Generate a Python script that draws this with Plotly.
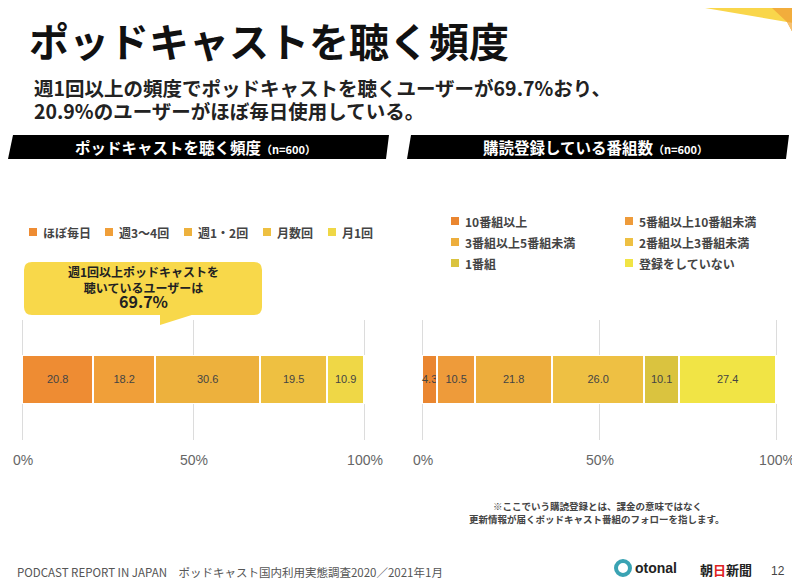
import plotly.graph_objects as go

# The page places the figure 8px in from the top-left corner, so the figure is
# drawn 8px smaller and reference-pixel positions are shifted by that offset.
OFF = 8
W, H = 800 - OFF, 585 - OFF

# ---------------- data ----------------
freq_categories = ["ほぼ毎日", "週3〜4回", "週1・2回", "月数回", "月1回"]
freq_values = [20.8, 18.2, 30.6, 19.5, 10.9]
freq_colors = ["#EE8C33", "#F09F39", "#EDB13D", "#EEC041", "#EFD746"]

sub_categories = ["10番組以上", "5番組以上10番組未満", "3番組以上5番組未満",
                  "2番組以上3番組未満", "1番組", "登録をしていない"]
sub_values = [4.3, 10.5, 21.8, 26.0, 10.1, 27.4]
sub_colors = ["#EA8630", "#EE9B3A", "#EDAE3D", "#EEC043", "#DAC33F", "#F1E445"]

x_tick_values = [0, 50, 100]
x_tick_labels = ["0%", "50%", "100%"]

JP = "Noto Sans CJK JP"
LAT = "Liberation Sans"


def px(x):
    return (x - OFF) / W


def py(y):
    return 1 - (y - OFF) / H


fig = go.Figure()

for cat, val, col in zip(freq_categories, freq_values, freq_colors):
    fig.add_trace(go.Bar(
        x=[val], y=["freq"], orientation="h", name=cat,
        marker=dict(color=col, line=dict(color="white", width=1.5)),
        text=[f"{val:.1f}"], textposition="inside", insidetextanchor="middle",
        textangle=0,
        textfont=dict(family=LAT, size=11, color="#444444"),
        width=0.4, xaxis="x", yaxis="y", showlegend=False,
        hovertemplate=cat + ": %{x:.1f}%<extra></extra>"))

for cat, val, col in zip(sub_categories, sub_values, sub_colors):
    fig.add_trace(go.Bar(
        x=[val], y=["sub"], orientation="h", name=cat,
        marker=dict(color=col, line=dict(color="white", width=1.5)),
        text=[f"{val:.1f}"], textposition="inside", insidetextanchor="middle",
        textangle=0,
        textfont=dict(family=LAT, size=11, color="#444444"),
        width=0.4, xaxis="x2", yaxis="y2", showlegend=False,
        hovertemplate=cat + ": %{x:.1f}%<extra></extra>"))

# a little padding on the x range so the 0% / 100% gridlines are drawn
XPAD = 0.6


def xdomain(x0, x1):
    unit = (x1 - x0) / 100.0
    return [px(x0 - XPAD * unit), px(x1 + XPAD * unit)]


xcommon = dict(range=[-XPAD, 100 + XPAD], tickvals=x_tick_values, ticktext=x_tick_labels,
               showgrid=True, gridcolor="#DCDCDC", gridwidth=1, zeroline=False,
               showline=False, ticks="outside", ticklen=7,
               tickcolor="rgba(0,0,0,0)",
               tickfont=dict(family=LAT, size=14, color="#666666"),
               automargin=False, fixedrange=True)
ycommon = dict(range=[-0.5, 0.5], showticklabels=False, showgrid=False,
               zeroline=False, automargin=False, fixedrange=True)

fig.update_layout(
    width=W, height=H,
    margin=dict(l=0, r=0, t=0, b=0, pad=0, autoexpand=False),
    paper_bgcolor="white", plot_bgcolor="rgba(0,0,0,0)",
    barmode="stack", bargap=0,
    showlegend=False,
    uniformtext=dict(minsize=11, mode="show"),
    xaxis=dict(domain=xdomain(23, 365), anchor="y", **xcommon),
    yaxis=dict(domain=[py(440), py(320)], anchor="x", **ycommon),
    xaxis2=dict(domain=xdomain(423, 777), anchor="y2", **xcommon),
    yaxis2=dict(domain=[py(440), py(320)], anchor="x2", **ycommon),
)

shapes = []
ann = []


def path(points):
    return "M " + " L ".join(f"{px(x):.5f},{py(y):.5f}" for x, y in points) + " Z"


def rounded_rect(x0, y0, x1, y1, r):
    p = lambda x, y: f"{px(x):.5f},{py(y):.5f}"
    return (f"M {p(x0 + r, y0)} L {p(x1 - r, y0)} Q {p(x1, y0)} {p(x1, y0 + r)} "
            f"L {p(x1, y1 - r)} Q {p(x1, y1)} {p(x1 - r, y1)} "
            f"L {p(x0 + r, y1)} Q {p(x0, y1)} {p(x0, y1 - r)} "
            f"L {p(x0, y0 + r)} Q {p(x0, y0)} {p(x0 + r, y0)} Z")


# corner decoration (top-right)
shapes.append(dict(type="path", xref="paper", yref="paper",
                   path=path([(705, 8), (800, 8), (800, 24), (787, 22)]),
                   fillcolor="#F9D64B", line=dict(width=0)))
shapes.append(dict(type="path", xref="paper", yref="paper",
                   path=path([(772, 8), (800, 8), (800, 46), (787, 22)]),
                   fillcolor="#F2AD3C", line=dict(width=0)))
shapes.append(dict(type="path", xref="paper", yref="paper",
                   path=path([(787, 22), (800, 24), (800, 46)]),
                   fillcolor="#F5C070", line=dict(width=0)))

# title
ann.append(dict(text="<b>ポッドキャストを聴く頻度</b>", x=px(27), y=py(40),
                xanchor="left", yanchor="middle",
                font=dict(family=JP, size=40, color="#111111")))
ann.append(dict(text="<b>週1回以上の頻度でポッドキャストを聴くユーザーが69.7%おり、</b>",
                x=px(32), y=py(88), xanchor="left", yanchor="middle",
                font=dict(family=JP, size=19.5, color="#222222")))
ann.append(dict(text="<b>20.9%のユーザーがほぼ毎日使用している。</b>",
                x=px(32), y=py(110), xanchor="left", yanchor="middle",
                font=dict(family=JP, size=19.5, color="#222222")))

# section headers (black parallelograms)
shapes.append(dict(type="path", xref="paper", yref="paper",
                   path=path([(8, 159), (13, 135), (389, 135), (386, 159)]),
                   fillcolor="#000000", line=dict(width=0)))
shapes.append(dict(type="path", xref="paper", yref="paper",
                   path=path([(407, 159), (411, 135), (789, 135), (786, 159)]),
                   fillcolor="#000000", line=dict(width=0)))
ann.append(dict(text="<b>ポッドキャストを聴く頻度</b><span style='font-size:11px'><b>（n=600）</b></span>",
                x=px(195), y=py(147), xanchor="center", yanchor="middle",
                font=dict(family=JP, size=15.5, color="white")))
ann.append(dict(text="<b>購読登録している番組数</b><span style='font-size:11px'><b>（n=600）</b></span>",
                x=px(595), y=py(147), xanchor="center", yanchor="middle",
                font=dict(family=JP, size=15.5, color="white")))

# left legend
left_legend_x = [33, 109, 188, 267, 332]
for xx, cat, col in zip(left_legend_x, freq_categories, freq_colors):
    shapes.append(dict(type="rect", xref="paper", yref="paper",
                       x0=px(xx - 4), x1=px(xx + 4), y0=py(236), y1=py(228),
                       fillcolor=col, line=dict(width=0)))
    ann.append(dict(text=f"<b>{cat}</b>", x=px(xx + 8), y=py(232),
                    xanchor="left", yanchor="middle",
                    font=dict(family=JP, size=12, color="#444444")))

# right legend (2 columns)
right_legend_pos = [(455, 221), (629, 221), (455, 242), (629, 242), (455, 263), (629, 263)]
for (xx, yy), cat, col in zip(right_legend_pos, sub_categories, sub_colors):
    shapes.append(dict(type="rect", xref="paper", yref="paper",
                       x0=px(xx - 4), x1=px(xx + 4), y0=py(yy + 4), y1=py(yy - 4),
                       fillcolor=col, line=dict(width=0)))
    ann.append(dict(text=f"<b>{cat}</b>", x=px(xx + 8), y=py(yy),
                    xanchor="left", yanchor="middle",
                    font=dict(family=JP, size=12, color="#444444")))

# callout bubble
shapes.append(dict(type="path", xref="paper", yref="paper",
                   path=rounded_rect(24, 262, 262, 315, 8),
                   fillcolor="#F8D84A", line=dict(width=0)))
shapes.append(dict(type="path", xref="paper", yref="paper",
                   path=path([(160, 313), (198, 313), (160, 325)]),
                   fillcolor="#F8D84A", line=dict(width=0)))
ann.append(dict(text="<b>週1回以上ポッドキャストを<br>聴いているユーザーは<br>"
                     "<span style='font-size:16px'>69.7%</span></b>",
                x=px(143), y=py(288), xanchor="center", yanchor="middle",
                align="center",
                font=dict(family=JP, size=12, color="#222222")))

# footnote
ann.append(dict(text="<b>※ここでいう購読登録とは、課金の意味ではなく</b>", x=px(597), y=py(506),
                xanchor="center", yanchor="middle",
                font=dict(family=JP, size=9.5, color="#444444")))
ann.append(dict(text="<b>更新情報が届くポッドキャスト番組のフォローを指します。</b>", x=px(597), y=py(519),
                xanchor="center", yanchor="middle",
                font=dict(family=JP, size=9.5, color="#444444")))

# footer
ann.append(dict(text="PODCAST REPORT IN JAPAN　ポッドキャスト国内利用実態調査2020／2021年1月",
                x=px(15), y=py(572), xanchor="left", yanchor="middle",
                font=dict(family=JP, size=11.5, color="#555555")))
shapes.append(dict(type="circle", xref="paper", yref="paper",
                   x0=px(616), x1=px(630), y0=py(575), y1=py(561),
                   fillcolor="#FFFFFF", line=dict(color="#3AA3B3", width=4)))
ann.append(dict(text="<b>otonal</b>", x=px(633), y=py(568), xanchor="left", yanchor="middle",
                font=dict(family=LAT, size=14, color="#222222")))
ann.append(dict(text="<b>朝<span style='color:#E02020'>日</span>新聞</b>", x=px(698), y=py(569),
                xanchor="left", yanchor="middle",
                font=dict(family=JP, size=13, color="#222222")))
ann.append(dict(text="12", x=px(778), y=py(571), xanchor="center", yanchor="middle",
                font=dict(family=LAT, size=12, color="#444444")))

for a in ann:
    a.update(xref="paper", yref="paper", showarrow=False)

fig.update_layout(shapes=shapes, annotations=ann)

fig.write_html("out.html")
